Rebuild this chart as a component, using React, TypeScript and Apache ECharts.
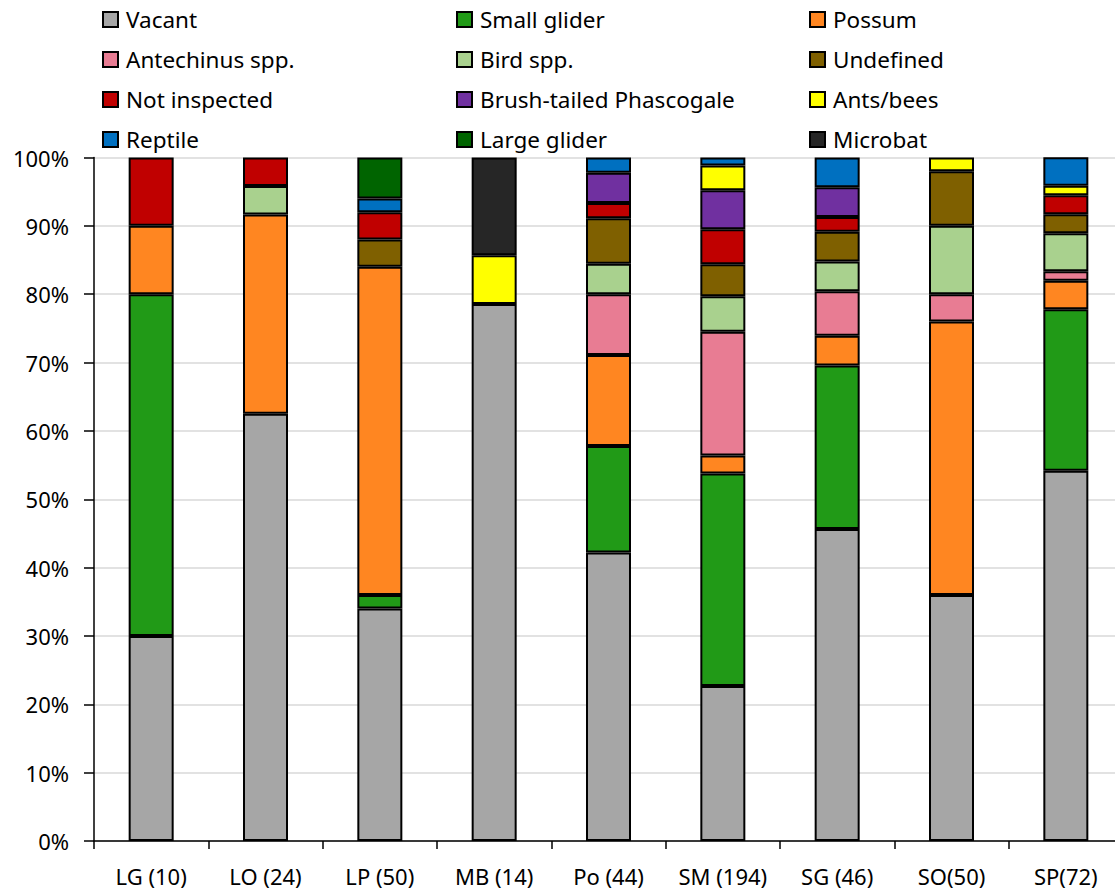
import React, { useEffect, useRef } from "react";
import * as echarts from "echarts";

const categories = ["LG (10)", "LO (24)", "LP (50)", "MB (14)", "Po (44)", "SM (194)", "SG (46)", "SO(50)", "SP(72)"];
const yTicks = [0, 10, 20, 30, 40, 50, 60, 70, 80, 90, 100];

const vacant = [30, 62.5, 34, 78.57, 42.22, 22.68, 45.65, 36, 54.17];
const smallGlider = [50, null, 2, null, 15.56, 31.08, 23.91, null, 23.61];
const possum = [10, 29.17, 48, null, 13.33, 2.63, 4.35, 40, 4.17];
const antechinus = [null, null, null, null, 8.89, 18.1, 6.52, 4, 1.39];
const bird = [null, 4.17, null, null, 4.44, 5.22, 4.35, 10, 5.56];
const undefinedOcc = [null, null, 4, null, 6.67, 4.68, 4.35, 8, 2.78];
const notInspected = [10, 4.17, 4, null, 2.22, 5.12, 2.17, null, 2.78];
const phascogale = [null, null, null, null, 4.44, 5.71, 4.35, null, null];
const antsBees = [null, null, null, 7.14, null, 3.61, null, 2, 1.39];
const reptile = [null, null, 2, null, 2.22, 1.17, 4.35, null, 4.17];
const largeGlider = [null, null, 6, null, null, null, null, null, null];
const microbat = [null, null, null, 14.29, null, null, null, null, null];

const seriesNames = [
  "Vacant", "Small glider", "Possum",
  "Antechinus spp.", "Bird spp.", "Undefined",
  "Not inspected", "Brush-tailed Phascogale", "Ants/bees",
  "Reptile", "Large glider", "Microbat",
];
const seriesData = [vacant, smallGlider, possum, antechinus, bird, undefinedOcc, notInspected, phascogale, antsBees, reptile, largeGlider, microbat];
const seriesColors = [
  "#A6A6A6", "#219A17", "#FF8621",
  "#E87C93", "#A9D18E", "#7F6000",
  "#C00000", "#7030A0", "#FFFF00",
  "#0070C0", "#006400", "#262626",
];

const FONT = "Noto Sans";

export default function App() {
  const ref = useRef<HTMLDivElement>(null);
  useEffect(() => {
    if (!ref.current) return;
    const chart = echarts.init(ref.current, null, { renderer: "svg" });
    const legendCols = [0, 1, 2].map((c) => ({
      orient: "vertical" as const,
      left: [102, 456, 809][c],
      top: 7,
      padding: 0,
      itemWidth: 15,
      itemHeight: 15,
      itemGap: 15,
      icon: "rect",
      data: [0, 1, 2, 3].map((r) => seriesNames[r * 3 + c]),
      textStyle: { fontFamily: FONT, fontSize: 22.5, color: "#000", lineHeight: 25, padding: [0, 0, 0, 3] },
      selectedMode: false,
    }));
    chart.setOption({
      animation: false,
      backgroundColor: "#fff",
      legend: legendCols,
      grid: { left: 94, right: -8, top: 157.5, bottom: 50, outerBoundsMode: "none" },
      xAxis: {
        type: "category",
        data: categories,
        axisLine: { lineStyle: { color: "#000", width: 1.5 } },
        axisTick: { show: true, interval: 0, length: 8, lineStyle: { color: "#000", width: 1.5 } },
        axisLabel: { fontFamily: FONT, fontSize: 22, color: "#000", margin: 24, interval: 0, hideOverlap: false },
      },
      yAxis: {
        type: "value",
        min: 0,
        max: 100,
        interval: 10,
        axisLine: { show: true, lineStyle: { color: "#000", width: 1.5 } },
        axisTick: { show: true, length: 10, lineStyle: { color: "#000", width: 1.5 } },
        splitLine: { lineStyle: { color: "#D9D9D9", width: 1.5 } },
        axisLabel: {
          fontFamily: FONT,
          fontSize: 22,
          color: "#000",
          margin: 25,
          formatter: (v: number) => (yTicks.includes(v) ? v + "%" : ""),
        },
      },
      series: seriesNames.map((name, i) => ({
        name,
        type: "bar",
        stack: "total",
        barWidth: 45,
        data: seriesData[i],
        itemStyle: { color: seriesColors[i], borderColor: "#000", borderWidth: 2 },
      })),
    });
    return () => chart.dispose();
  }, []);
  return <div ref={ref} style={{ position: "fixed", left: 0, top: 0, width: 1115, height: 891 }} />;
}
